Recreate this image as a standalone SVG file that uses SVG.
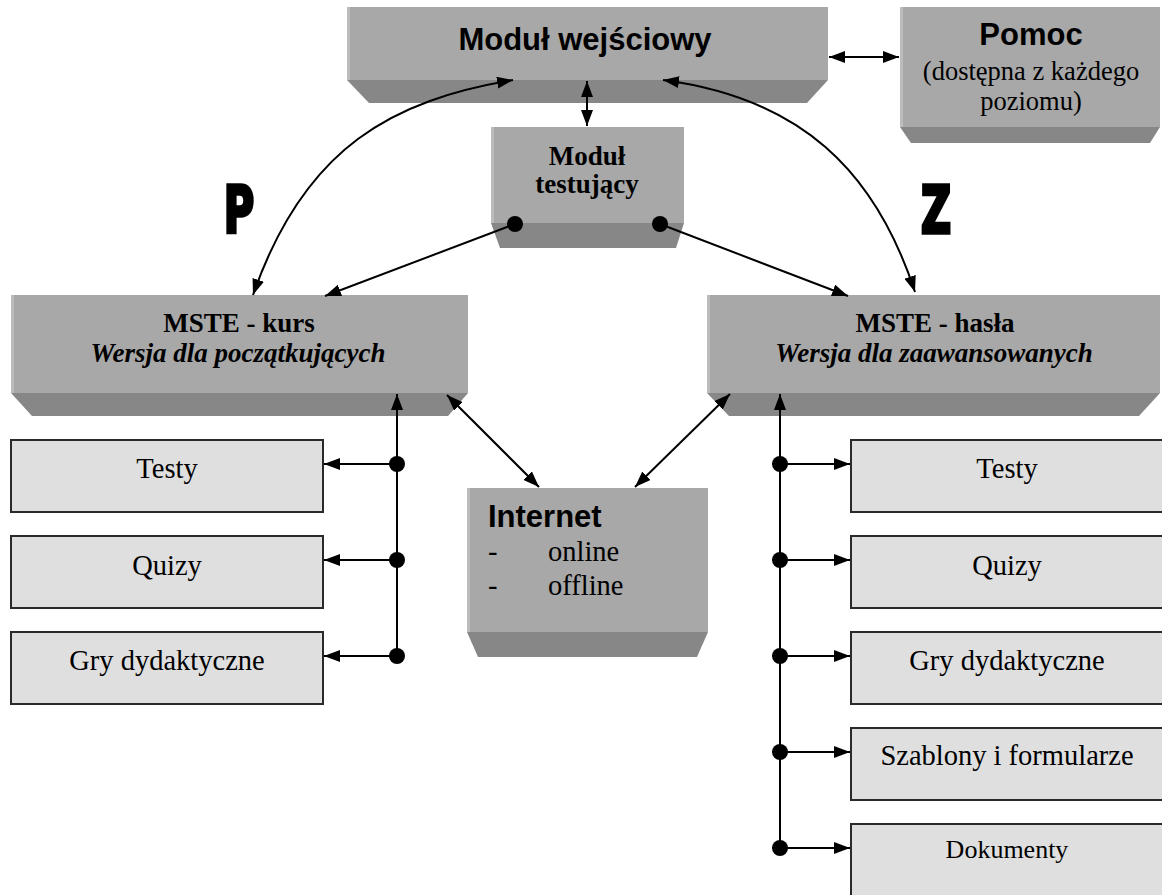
<svg xmlns="http://www.w3.org/2000/svg" width="1162" height="895" viewBox="0 0 1162 895">
<style>
.face{fill:#a8a8a8;}
.edge{fill:#bcbcbc;}
.bev{fill:#878787;}
.box{fill:#dfdfdf;stroke:#2a2a2a;stroke-width:2;}
.ln{fill:none;stroke:#000;stroke-width:2;}
.serif{font-family:"Liberation Serif","Times New Roman",serif;fill:#000;}
.sans{font-family:"Liberation Sans",Arial,sans-serif;font-weight:bold;fill:#000;}
.big{font-size:28.5px;}
.b27{font-size:27px;font-weight:bold;}
.bi27{font-size:27px;font-weight:bold;font-style:italic;}
.letter{font-family:"Liberation Sans Narrow","DejaVu Sans Condensed","Liberation Sans",sans-serif;font-weight:bold;font-size:66px;fill:#000;stroke:#000;stroke-width:3.5;stroke-linejoin:miter;}
</style>
<defs>
<marker id="arr" viewBox="0 0 16 12" refX="16" refY="6" markerWidth="16" markerHeight="12" markerUnits="userSpaceOnUse" orient="auto-start-reverse">
<path d="M0,0 L16,6 L0,12 z" fill="#000"/>
</marker>
</defs>
<rect width="1162" height="895" fill="#fff"/>

<g id="modul-wejsciowy">
<rect class="face" x="347" y="7" width="481" height="73"/>
<rect class="edge" x="347" y="7" width="3" height="73"/>
<polygon class="bev" points="347,80 828,80 807,103 369,103"/>
<text class="sans" x="585" y="50" font-size="31" text-anchor="middle">Moduł wejściowy</text>
</g>

<g id="pomoc">
<rect class="face" x="900" y="7" width="260" height="120"/>
<rect class="edge" x="900" y="7" width="3" height="120"/>
<polygon class="bev" points="900,127 1160,127 1150,143 911,143"/>
<text class="sans" x="1031" y="45" font-size="31" text-anchor="middle">Pomoc</text>
<text class="serif" x="1031" y="80" font-size="26.5" text-anchor="middle">(dostępna z każdego</text>
<text class="serif" x="1031" y="110" font-size="26.5" text-anchor="middle">poziomu)</text>
</g>

<g id="modul-testujacy">
<rect class="face" x="491" y="127" width="193" height="96"/>
<rect class="edge" x="491" y="127" width="3" height="96"/>
<polygon class="bev" points="491,223 684,223 676,248 500,248"/>
<text class="serif b27" x="587" y="165" text-anchor="middle">Moduł</text>
<text class="serif b27" x="587" y="193" text-anchor="middle">testujący</text>
</g>

<g id="label-p">
<text class="letter" x="0" y="0" text-anchor="middle" transform="translate(239,233) scale(0.7,1)">P</text>
</g>
<g id="label-z">
<text class="letter" x="0" y="0" text-anchor="middle" transform="translate(936,233) scale(0.7,1)">Z</text>
</g>

<g id="mste-kurs">
<rect class="face" x="11" y="295" width="457" height="98"/>
<rect class="edge" x="11" y="295" width="3" height="98"/>
<polygon class="bev" points="11,393 468,393 448,416 32,416"/>
<text class="serif b27" x="239" y="332" text-anchor="middle">MSTE - kurs</text>
<text class="serif bi27" x="238" y="362" text-anchor="middle">Wersja dla początkujących</text>
</g>

<g id="mste-hasla">
<rect class="face" x="707" y="295" width="453" height="98"/>
<rect class="edge" x="707" y="295" width="3" height="98"/>
<polygon class="bev" points="707,393 1160,393 1139,416 729,416"/>
<text class="serif b27" x="935" y="332" text-anchor="middle">MSTE - hasła</text>
<text class="serif bi27" x="934" y="362" text-anchor="middle">Wersja dla zaawansowanych</text>
</g>

<g id="internet">
<rect class="face" x="467" y="488" width="241" height="144"/>
<rect class="edge" x="467" y="488" width="3" height="144"/>
<polygon class="bev" points="467,632 708,632 697,657 478,657"/>
<text class="sans" x="488" y="527" font-size="31">Internet</text>
<text class="serif big" x="488" y="561">-</text>
<text class="serif big" x="548" y="561">online</text>
<text class="serif big" x="488" y="595">-</text>
<text class="serif big" x="548" y="595">offline</text>
</g>

<g id="l-testy"><rect class="box" x="11" y="440" width="312" height="72"/><text class="serif big" x="167" y="478" text-anchor="middle">Testy</text></g>
<g id="l-quizy"><rect class="box" x="11" y="536" width="312" height="72"/><text class="serif big" x="167" y="575" text-anchor="middle">Quizy</text></g>
<g id="l-gry"><rect class="box" x="11" y="632" width="312" height="72"/><text class="serif big" x="167" y="670" text-anchor="middle">Gry dydaktyczne</text></g>

<g id="r-testy"><rect class="box" x="851" y="440" width="312" height="72"/><text class="serif big" x="1007" y="478" text-anchor="middle">Testy</text></g>
<g id="r-quizy"><rect class="box" x="851" y="536" width="312" height="72"/><text class="serif big" x="1007" y="575" text-anchor="middle">Quizy</text></g>
<g id="r-gry"><rect class="box" x="851" y="632" width="312" height="72"/><text class="serif big" x="1007" y="670" text-anchor="middle">Gry dydaktyczne</text></g>
<g id="r-szablony"><rect class="box" x="851" y="728" width="312" height="72"/><text class="serif big" x="1007" y="765" text-anchor="middle">Szablony i formularze</text></g>
<g id="r-dokumenty"><rect class="box" x="851" y="824" width="312" height="72"/><text class="serif" font-size="26" x="1007" y="858" text-anchor="middle">Dokumenty</text></g>

<g id="connectors">
<path class="ln" d="M513,80 C395,100 305,145 253,295" marker-start="url(#arr)" marker-end="url(#arr)"/>
<path class="ln" d="M663,80 C800,98 875,170 915,292" marker-start="url(#arr)" marker-end="url(#arr)"/>
<line class="ln" x1="587" y1="81" x2="587" y2="126" marker-start="url(#arr)" marker-end="url(#arr)"/>
<line class="ln" x1="829" y1="57" x2="899" y2="57" marker-start="url(#arr)" marker-end="url(#arr)"/>
<line class="ln" x1="515" y1="224" x2="325" y2="296" marker-end="url(#arr)"/>
<line class="ln" x1="660" y1="224" x2="848" y2="296" marker-end="url(#arr)"/>
<circle cx="515" cy="224" r="8" fill="#000"/>
<circle cx="660" cy="224" r="8" fill="#000"/>
<line class="ln" x1="447" y1="395" x2="539" y2="487" marker-start="url(#arr)" marker-end="url(#arr)"/>
<line class="ln" x1="730" y1="394" x2="635" y2="487" marker-start="url(#arr)" marker-end="url(#arr)"/>
<line class="ln" x1="397" y1="657" x2="397" y2="394" marker-end="url(#arr)"/>
<line class="ln" x1="397" y1="464" x2="324" y2="464" marker-end="url(#arr)"/>
<line class="ln" x1="397" y1="560" x2="324" y2="560" marker-end="url(#arr)"/>
<line class="ln" x1="397" y1="656" x2="324" y2="656" marker-end="url(#arr)"/>
<circle cx="397" cy="464" r="8" fill="#000"/>
<circle cx="397" cy="560" r="8" fill="#000"/>
<circle cx="397" cy="656" r="8" fill="#000"/>
<line class="ln" x1="780" y1="849" x2="780" y2="394" marker-end="url(#arr)"/>
<line class="ln" x1="780" y1="464" x2="850" y2="464" marker-end="url(#arr)"/>
<line class="ln" x1="780" y1="560" x2="850" y2="560" marker-end="url(#arr)"/>
<line class="ln" x1="780" y1="656" x2="850" y2="656" marker-end="url(#arr)"/>
<line class="ln" x1="780" y1="752" x2="850" y2="752" marker-end="url(#arr)"/>
<line class="ln" x1="780" y1="848" x2="850" y2="848" marker-end="url(#arr)"/>
<circle cx="780" cy="464" r="8" fill="#000"/>
<circle cx="780" cy="560" r="8" fill="#000"/>
<circle cx="780" cy="656" r="8" fill="#000"/>
<circle cx="780" cy="752" r="8" fill="#000"/>
<circle cx="780" cy="848" r="8" fill="#000"/>
</g>
</svg>
